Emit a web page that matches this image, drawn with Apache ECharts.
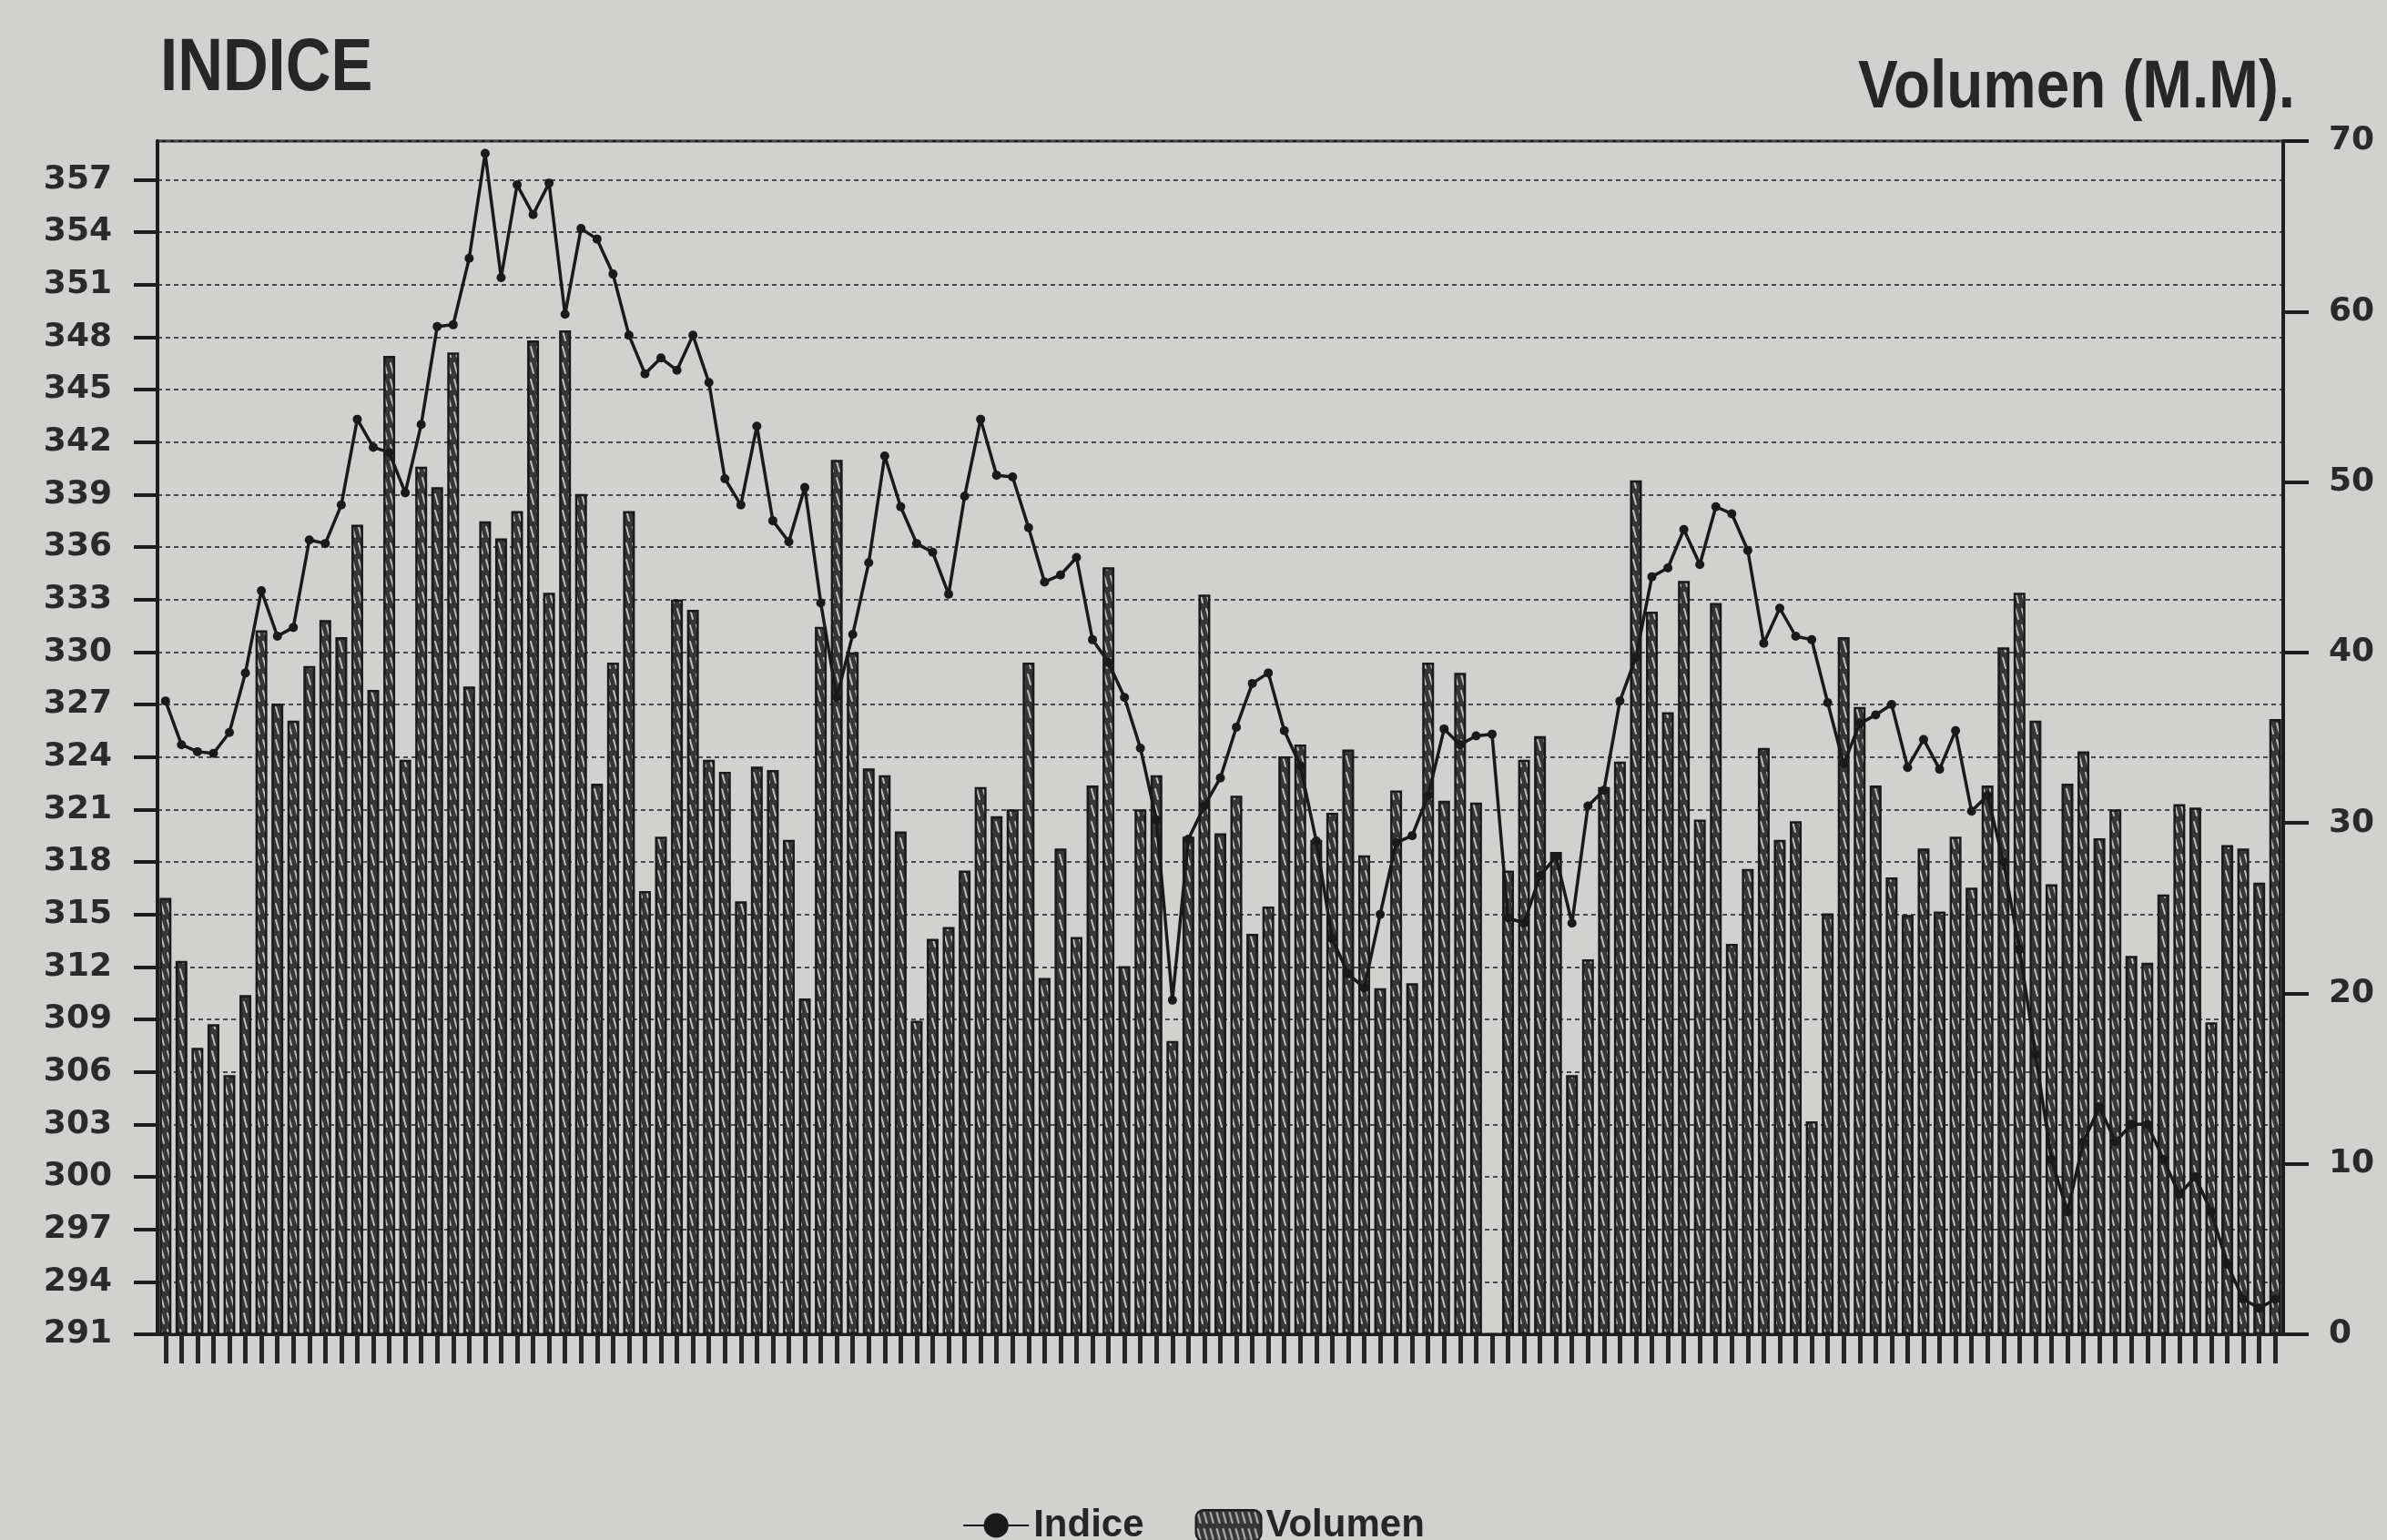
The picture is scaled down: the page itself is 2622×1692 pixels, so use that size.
<!DOCTYPE html>
<html>
<head>
<meta charset="utf-8">
<title>Indice y Volumen</title>
<script src="https://cdn.jsdelivr.net/npm/echarts@6/dist/echarts.min.js"></script>
<style>
  html, body { margin: 0; padding: 0; background: #d1d1cf; }
  #chart { width: 2622px; height: 1692px; }
</style>
</head>
<body>
<div id="chart"></div>
<script>
// sesiones: 133 barras, sin rotulos en el eje horizontal
const volumen = [
  25.6, 21.9, 16.8, 18.2, 15.2, 19.9, 41.3, 37.0, 36.0, 39.2,
  41.9, 40.9, 47.5, 37.8, 57.4, 33.7, 50.9, 49.7, 57.6, 38.0,
  47.7, 46.7, 48.3, 58.3, 43.5, 58.9, 49.3, 32.3, 39.4, 48.3,
  26.0, 29.2, 43.1, 42.5, 33.7, 33.0, 25.4, 33.3, 33.1, 29.0,
  19.7, 41.5, 51.3, 40.0, 33.2, 32.8, 29.5, 18.4, 23.2, 23.9,
  27.2, 32.1, 30.4, 30.8, 39.4, 20.9, 28.5, 23.3, 32.2, 45.0,
  21.6, 30.8, 32.8, 17.2, 29.2, 43.4, 29.4, 31.6, 23.5, 25.1,
  33.9, 34.6, 29.0, 30.6, 34.3, 28.1, 20.3, 31.9, 20.6, 39.4,
  31.3, 38.8, 31.2, 0, 27.2, 33.7, 35.1, 28.3, 15.2, 22.0,
  32.1, 33.6, 50.1, 42.4, 36.5, 44.2, 30.2, 42.9, 22.9, 27.3,
  34.4, 29.0, 30.1, 12.5, 24.7, 40.9, 36.8, 32.2, 26.8, 24.6,
  28.5, 24.8, 29.2, 26.2, 32.2, 40.3, 43.5, 36.0, 26.4, 32.3,
  34.2, 29.1, 30.8, 22.2, 21.8, 25.8, 31.1, 30.9, 18.3, 28.7,
  28.5, 26.5, 36.1
];

const indice = [
  327.2, 324.7, 324.3, 324.2, 325.4, 328.8, 333.5, 330.9, 331.4, 336.4,
  336.2, 338.4, 343.3, 341.7, 341.4, 339.1, 343.0, 348.6, 348.7, 352.5,
  358.5, 351.4, 356.7, 355.0, 356.8, 349.3, 354.2, 353.6, 351.6, 348.1,
  345.9, 346.8, 346.1, 348.1, 345.4, 339.9, 338.4, 342.9, 337.5, 336.3,
  339.4, 332.8, 327.4, 331.0, 335.1, 341.2, 338.3, 336.2, 335.7, 333.3,
  338.9, 343.3, 340.1, 340.0, 337.1, 334.0, 334.4, 335.4, 330.7, 329.4,
  327.4, 324.5, 320.4, 310.1, 319.3, 321.2, 322.8, 325.7, 328.2, 328.8,
  325.5, 323.5, 319.2, 313.6, 311.6, 310.8, 315.0, 319.1, 319.5, 321.8,
  325.6, 324.7, 325.2, 325.3, 314.8, 314.5, 317.2, 318.3, 314.5, 321.2,
  322.1, 327.2, 329.7, 334.3, 334.8, 337.0, 335.0, 338.3, 337.9, 335.8,
  330.5, 332.5, 330.9, 330.7, 327.1, 323.6, 325.9, 326.4, 327.0, 323.4,
  325.0, 323.3, 325.5, 320.9, 321.8, 318.0, 313.0, 307.0, 301.0, 298.0,
  302.0, 304.0, 302.0, 303.0, 303.0, 301.0, 299.0, 300.0, 298.0, 295.0,
  293.0, 292.5, 293.0
];

const sesiones = volumen.map((v, i) => String(i + 1));

const tituloIzq = 'INDICE';
const tituloDer = 'Volumen (M.M).';

// trama rayada de las barras
function trama() {
  const c = document.createElement('canvas');
  c.width = 7;
  c.height = 18;
  const g = c.getContext('2d');
  g.fillStyle = '#363636';
  g.fillRect(0, 0, 7, 18);
  g.strokeStyle = '#bdbdbb';
  g.lineWidth = 2;
  g.lineCap = 'round';
  g.beginPath();
  g.moveTo(2, 3);
  g.lineTo(5, 14);
  g.stroke();
  return c;
}

const tinta = '#1e1e1e';
const cifras = { fontFamily: 'DejaVu Sans', fontWeight: 'bold', fontSize: 36, color: '#2a2a2a' };

const chart = echarts.init(document.getElementById('chart'));
chart.setOption({
  backgroundColor: '#d1d1cf',
  animation: false,
  grid: {
    left: 173, right: 114, top: 155, bottom: 226,
    show: true, borderColor: tinta, borderWidth: 3, backgroundColor: 'transparent'
  },
  legend: {
    data: ['Indice', 'Volumen'],
    top: 1650,
    left: 'center',
    itemWidth: 72,
    itemHeight: 34,
    itemGap: 56,
    textStyle: { fontFamily: 'Liberation Sans', fontWeight: 'bold', fontSize: 42, color: '#262626' }
  },
  graphic: [
    {
      type: 'text', x: 176, y: 76, scaleX: 0.84,
      style: {
        text: tituloIzq, fill: '#262626', align: 'left', verticalAlign: 'middle',
        textAlign: 'left', textVerticalAlign: 'middle',
        fontFamily: 'Liberation Sans', fontWeight: 'bold', fontSize: 82
      }
    },
    {
      type: 'text', x: 2521, y: 97, scaleX: 0.875,
      style: {
        text: tituloDer, fill: '#262626', align: 'right', verticalAlign: 'middle',
        textAlign: 'right', textVerticalAlign: 'middle',
        fontFamily: 'Liberation Sans', fontWeight: 'bold', fontSize: 75
      }
    }
  ],
  xAxis: {
    type: 'category',
    data: sesiones,
    boundaryGap: true,
    axisLine: { lineStyle: { color: tinta, width: 3 } },
    axisTick: { show: true, alignWithLabel: true, interval: 0, length: 32, lineStyle: { color: '#262626', width: 5 } },
    axisLabel: { show: false },
    splitLine: { show: false }
  },
  yAxis: [
    {
      type: 'value',
      position: 'left',
      min: 291,
      max: 359.2,
      interval: 3,
      axisLine: { show: true, lineStyle: { color: tinta, width: 4 } },
      axisTick: { show: true, length: 26, lineStyle: { color: tinta, width: 4 } },
      axisLabel: Object.assign({ margin: 50, showMaxLabel: false }, cifras),
      splitLine: { show: true, lineStyle: { color: '#4a4a4a', width: 2, type: [5, 4] } }
    },
    {
      type: 'value',
      position: 'right',
      min: 0,
      max: 70,
      interval: 10,
      axisLine: { show: true, lineStyle: { color: tinta, width: 4 } },
      axisTick: { show: true, length: 28, lineStyle: { color: tinta, width: 4 } },
      axisLabel: Object.assign({ margin: 50 }, cifras),
      splitLine: { show: false }
    }
  ],
  series: [
    {
      name: 'Volumen',
      type: 'bar',
      yAxisIndex: 1,
      data: volumen,
      barWidth: 13,
      itemStyle: { color: { image: trama(), repeat: 'repeat' }, borderColor: '#1a1a1a', borderWidth: 2.5 },
      z: 2
    },
    {
      name: 'Indice',
      type: 'line',
      yAxisIndex: 0,
      data: indice,
      symbol: 'circle',
      symbolSize: 10,
      lineStyle: { color: '#1a1a1a', width: 3.5 },
      itemStyle: { color: '#1a1a1a' },
      z: 3
    }
  ]
});
window.addEventListener('resize', () => { chart.resize(); });
</script>
</body>
</html>
